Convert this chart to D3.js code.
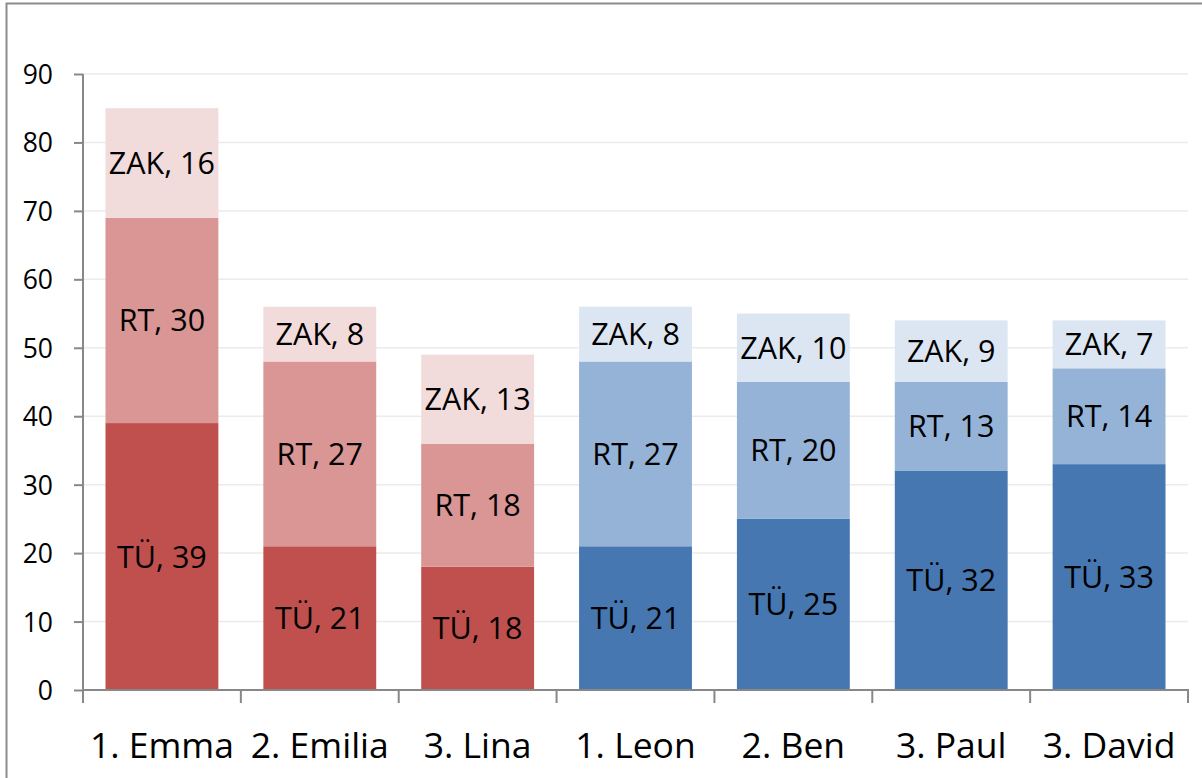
<!DOCTYPE html>
<html><head><meta charset="utf-8">
<script src="https://cdn.jsdelivr.net/npm/d3@7"></script>
<style>html,body{margin:0;padding:0;background:#fff;overflow:hidden}</style>
</head><body>
<svg id="c" width="1202" height="778"></svg>
<script>
const names = ["1. Emma","2. Emilia","3. Lina","1. Leon","2. Ben","3. Paul","3. David"];
const gender = ["f","f","f","m","m","m","m"];
const seriesNames = ["TÜ","RT","ZAK"];
const valTU  = [39,21,18,21,25,32,33];
const valRT  = [30,27,18,27,20,13,14];
const valZAK = [16,8,13,8,10,9,7];
const yTicks = [0,10,20,30,40,50,60,70,80,90];
const colors = {
  f: ["#C0504D","#D99694","#F2DCDB"],
  m: ["#4677B1","#95B3D7","#DCE6F2"]
};

(function(){
const svg = d3.select("#c");
const font = "'Open Sans', 'Noto Sans', sans-serif";
const pL = 83, pR = 1188, pT = 74, pB = 690;

// frame
svg.append("rect").attr("x",6.5).attr("y",3.5).attr("width",1300).attr("height",900)
  .attr("fill","none").attr("stroke","#8c8c8c").attr("stroke-width",2);

const x = d3.scaleBand().domain(names).range([pL,pR]).paddingInner(0.285).paddingOuter(0.1425);
const y = d3.scaleLinear().domain([0,90]).range([pB,pT]);

// gridlines
svg.append("g").selectAll("line").data(yTicks.filter(d=>d>0)).join("line")
  .attr("x1",pL).attr("x2",pR).attr("y1",d=>y(d)).attr("y2",d=>y(d))
  .attr("stroke","#ebebeb").attr("stroke-width",1.5);

const rows = names.map((n,i)=>({name:n, g:gender[i], vals:[valTU[i],valRT[i],valZAK[i]]}));
const bars = svg.append("g");
rows.forEach(r=>{
  let acc = 0;
  r.vals.forEach((v,k)=>{
    const y0 = acc, y1 = acc+v; acc = y1;
    bars.append("rect").attr("x",x(r.name)).attr("width",x.bandwidth())
      .attr("y",y(y1)).attr("height",y(y0)-y(y1)).attr("fill",colors[r.g][k]);
    bars.append("text").attr("x",x(r.name)+x.bandwidth()/2).attr("y",y((y0+y1)/2))
      .attr("dy","0.36em").attr("text-anchor","middle")
      .attr("font-family",font).attr("font-size",30.5).attr("fill","#000")
      .text(seriesNames[k]+", "+v);
  });
});

// y axis
const ya = svg.append("g").attr("transform",`translate(${pL},0)`)
  .call(d3.axisLeft(y).tickValues(yTicks).tickSize(9).tickPadding(21));
ya.select(".domain").attr("stroke","#888").attr("stroke-width",2).attr("d",`M0,${pT}V${pB}`);
ya.selectAll(".tick line").attr("stroke","#888").attr("stroke-width",2);
ya.selectAll(".tick text").attr("font-family",font).attr("font-size",26.5).attr("fill","#000").attr("dy","0.36em");

// x axis
const xa = svg.append("g").attr("transform",`translate(0,${pB})`);
xa.append("line").attr("x1",pL).attr("x2",pR+1).attr("y1",0).attr("y2",0)
  .attr("stroke","#888").attr("stroke-width",2);
const bounds = d3.range(names.length+1).map(i=>pL+i*x.step());
xa.selectAll("line.t").data(bounds).join("line").attr("class","t")
  .attr("x1",d=>d).attr("x2",d=>d).attr("y1",0).attr("y2",13)
  .attr("stroke","#888").attr("stroke-width",2);
xa.selectAll("text").data(names).join("text")
  .attr("x",d=>x(d)+x.bandwidth()/2).attr("y",68)
  .attr("text-anchor","middle").attr("font-family",font).attr("font-size",35.5).attr("fill","#000")
  .text(d=>d);
})();
</script>
</body></html>
